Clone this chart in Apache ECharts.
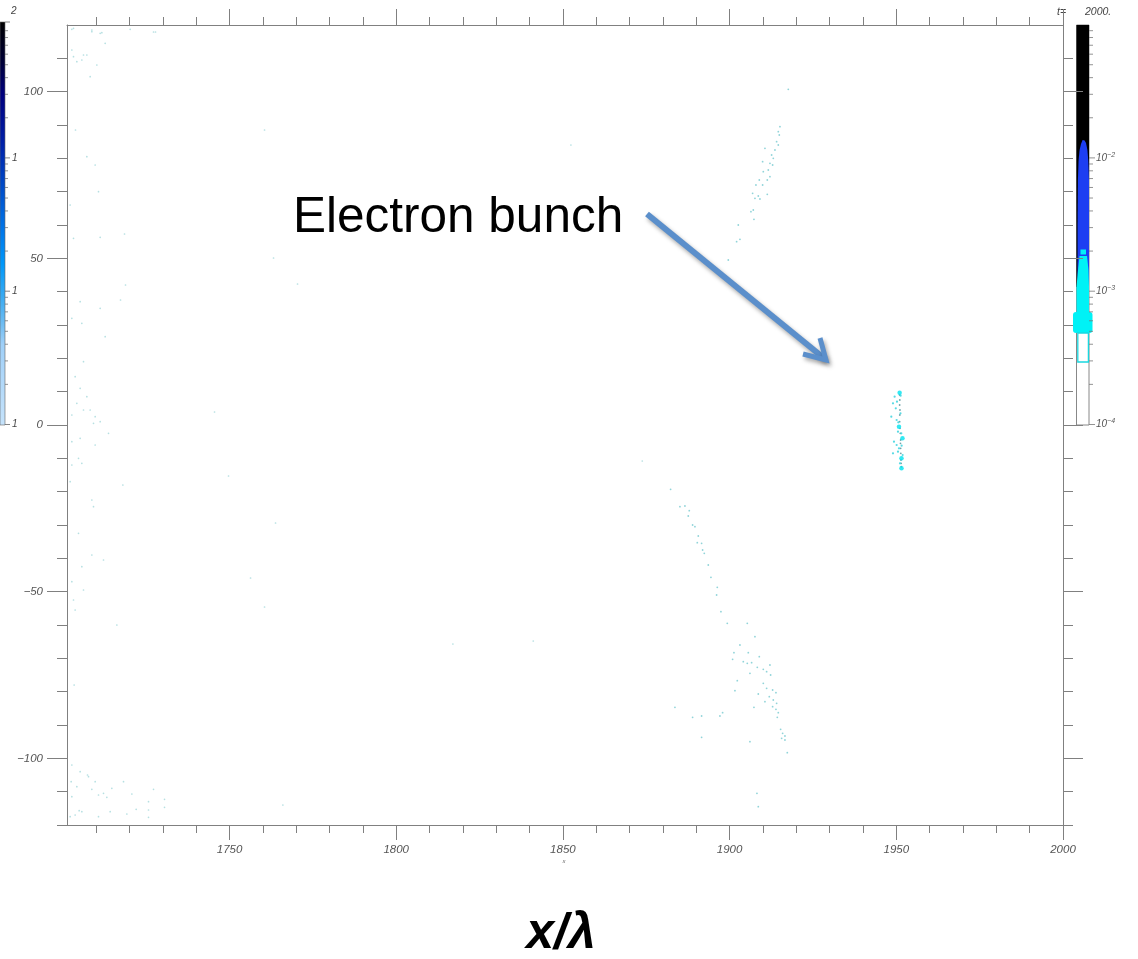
<!DOCTYPE html>
<html><head><meta charset="utf-8">
<script src="https://cdn.jsdelivr.net/npm/echarts@6/dist/echarts.min.js"></script>
<style>html,body{margin:0;padding:0;background:#fff}#c{width:1138px;height:959px}</style>
</head><body><div id="c"></div>
<script>
// ---- axis ticks / labels ----
const xRange = [1701.25, 2000];
const yRange = [-120, 120];
const xMajorTicks = [1750, 1800, 1850, 1900, 1950, 2000];
const xMinorTicks = [1710,1720,1730,1740,1760,1770,1780,1790,1810,1820,1830,1840,1860,1870,1880,1890,1910,1920,1930,1940,1960,1970,1980,1990];
const yMajorTicks = [-100, -50, 0, 50, 100];
const yMinorTicks = [-120,-110,-90,-80,-70,-60,-40,-30,-20,-10,10,20,30,40,60,70,80,90,110];

// ---- particle data [x/λ, y/λ] ----
const bunchCore = [[1951.0,9.7],[1950.8,-0.5],[1951.85,-4.0],[1951.55,-10.0],[1951.55,-13.0]];
const bunchHalo = [[1949.5,8.5],[1949.0,6.5],[1949.85,5.0],[1950.2,7.0],[1948.5,2.5],[1950.1,1.5],[1951.25,3.5],
  [1950.5,-2.0],[1951.5,-2.5],[1949.3,-5.0],[1950.1,-6.0],[1950.8,-7.0],[1949.0,-8.5],[1950.5,-8.0],
  [1951.9,-9.0],[1951.1,-11.5],[1951.3,8.8],[1950.6,0.8],[1951.6,-6.2]];
const bunchTrace = [[1951.0,9.0],[1951.05,7.5],[1951.0,6.0],[1951.1,4.5],[1951.05,3.0],[1951.0,1.0],[1951.1,-1.0],
  [1951.2,-2.5],[1951.3,-4.5],[1951.25,-5.5],[1951.3,-7.0],[1951.35,-8.5],[1951.4,-10.5],[1951.45,-11.5],[1951.5,-12.5]];
const upperArc = [[1917.6,100.7],[1915.1,89.5],[1914.6,88.0],[1914.9,87.0],[1914.1,85.0],[1914.6,84.0],[1913.6,82.5],
  [1912.6,81.0],[1913.1,80.0],[1912.1,78.5],[1910.6,83.0],[1912.9,78.0],[1911.6,76.5],[1909.9,79.0],[1910.1,76.0],
  [1912.1,74.5],[1911.3,73.5],[1908.9,73.5],[1909.9,72.0],[1907.9,72.0],[1911.3,69.2],[1906.9,69.5],[1908.6,68.7],
  [1907.6,68.0],[1909.1,67.8],[1907.1,64.5],[1906.4,64.0],[1907.3,61.7],[1902.6,60.0],[1903.1,55.7],[1902.1,55.0],[1899.6,49.5]];
const lowerArc = [[1882.3,-19.3],[1885.1,-24.5],[1886.6,-24.3],[1887.9,-25.7],[1887.6,-27.3],[1888.9,-30.0],[1889.6,-30.5],
  [1890.6,-33.3],[1890.3,-35.3],[1891.6,-35.5],[1891.9,-37.5],[1892.4,-38.5],[1893.6,-42.0],[1894.4,-45.7],[1896.3,-48.7],
  [1896.1,-51.0],[1897.4,-56.0],[1899.3,-59.5],[1905.3,-59.5],[1907.6,-63.5],[1903.1,-66.0],[1901.3,-68.3],[1905.6,-68.3],
  [1908.9,-69.5],[1900.9,-70.3],[1904.1,-71.0],[1905.3,-71.5],[1906.6,-71.3],[1908.3,-72.7],[1910.1,-73.3],[1912.1,-72.0],
  [1911.1,-74.0],[1906.1,-74.5],[1912.3,-75.0],[1902.3,-76.7],[1910.1,-77.5],[1911.1,-79.0],[1912.9,-79.5],[1901.6,-79.7],
  [1913.9,-80.3],[1908.6,-80.7],[1911.9,-81.5],[1910.6,-83.0],[1913.1,-82.5],[1914.1,-83.5],[1912.9,-84.5],[1913.9,-85.3],
  [1914.6,-86.3],[1914.3,-87.7],[1907.3,-84.7],[1897.9,-86.3],[1897.1,-87.3],[1891.6,-87.3],[1888.9,-87.7],[1883.6,-84.7],
  [1915.3,-91.3],[1915.9,-92.5],[1916.6,-93.3],[1915.6,-94.0],[1916.6,-94.5],[1891.6,-93.7],[1906.1,-95.0],[1917.3,-98.3],
  [1908.2,-110.5],[1908.6,-114.5]];
const edgeCluster = [[1702.7,112.5],[1704.2,109],[1705.7,109.5],[1707.2,111],[1703.2,110.5],[1708.2,104.5],[1710.2,108],
  [1708.7,118],[1711.2,117.5],[1703.2,119],[1712.7,114.5],[1702.7,118.7],[1708.7,118.5],[1711.7,117.7],[1720.2,118.7],
  [1727.2,117.9],[1706.2,111],[1703.8,88.5],[1707.2,80.5],[1709.7,78],[1710.7,70],[1702.2,66],[1703.2,56],[1711.2,56.3],
  [1718.5,57.3],[1718.8,42],[1717.3,37.5],[1705.2,37],[1705.7,30.5],[1702.7,32],[1711.2,35],[1712.7,26.5],[1706.2,19],
  [1703.7,14.5],[1705.2,11],[1707.2,8.5],[1704.2,6.5],[1708.2,4.5],[1709.7,2.5],[1711.2,1],[1702.7,3.0],[1706.2,4.5],
  [1709.2,0.5],[1713.7,-2.5],[1702.7,-5],[1705.2,-4],[1709.7,-6],[1704.7,-10],[1705.7,-11.5],[1702.7,-12],[1702.2,-17],
  [1718.0,-18],[1708.7,-22.5],[1709.2,-24.5],[1704.7,-32.5],[1705.7,-42.5],[1708.7,-39],[1712.2,-40.5],[1706.2,-49.5],
  [1702.7,-47],[1703.2,-52.5],[1703.7,-55.5],[1716.2,-60],[1703.4,-78],[1702.7,-102],[1705.2,-104],[1707.7,-105.5],
  [1709.7,-107],[1704.2,-108.5],[1712.2,-110.5],[1714.7,-109],[1702.7,-111.5],[1705.7,-116],[1707.4,-105],[1702.5,-107],
  [1708.7,-109.3],[1710.7,-111],[1713.2,-111.7],[1718.2,-107],[1720.7,-110.7],[1727.2,-109.3],[1730.5,-112.3],
  [1730.5,-114.7],[1725.7,-113],[1725.7,-115.5],[1722.0,-115.3],[1719.2,-116.7],[1714.2,-116],[1710.7,-117.5],
  [1704.9,-115.7],[1702.2,-117.5],[1703.7,-117],[1725.7,-117.7]];
const strayPoints = [[1760.5,88.5],[1763.2,50.1],[1770.4,42.3],[1745.5,3.9],[1749.7,-15.3],[1763.8,-29.4],[1756.3,-45.9],
  [1760.5,-54.6],[1841.1,-64.8],[1817.0,-65.7],[1873.8,-10.8],[1852.4,84.0],[1766.0,-114.0],[1727.8,117.9]];

// ---- colour bar tick labels ----
const leftBarLabels = ['2', '1', '1', '1'];
const rightBarExponents = ['−2', '−3', '−4'];
const timeLabel = 't=';
const timeValue = '2000.';

const chart = echarts.init(document.getElementById('c'), null, {renderer: 'canvas'});
const AX = '#808080';
const labelFont = {fontStyle: 'italic', fontSize: 11.5, color: '#555', fontFamily: 'Liberation Sans, Arial, sans-serif'};
const fmt = v => String(v).replace('-', '\u2212');

function xAx(pos, ticks, len, showLabel, showLine) {
  return {type: 'value', position: pos, min: xRange[0], max: xRange[1], gridIndex: 0,
    axisLine: {show: showLine, onZero: false, lineStyle: {color: AX, width: 1}},
    axisTick: {show: true, customValues: ticks, length: len, lineStyle: {color: AX}},
    axisLabel: showLabel ? Object.assign({show: true, customValues: ticks, margin: 19, formatter: fmt}, labelFont) : {show: false},
    splitLine: {show: false}};
}
function yAx(pos, ticks, len, showLabel, showLine) {
  return {type: 'value', position: pos, min: yRange[0], max: yRange[1], gridIndex: 0,
    axisLine: {show: showLine, onZero: false, lineStyle: {color: AX, width: 1}},
    axisTick: {show: true, customValues: ticks, length: len, lineStyle: {color: AX}},
    axisLabel: showLabel ? Object.assign({show: true, customValues: ticks, margin: 24, formatter: fmt}, labelFont) : {show: false},
    splitLine: {show: false}};
}

// colour bar log ticks
const graphics = [];
const decadeH = 133.3;
function logTicks(x0, x1, bases) {
  bases.forEach(b => {
    for (let k = 2; k <= 9; k++) {
      const y = b - decadeH * Math.log10(k);
      graphics.push({type: 'line', shape: {x1: x0, y1: y, x2: x1, y2: y}, style: {stroke: '#777', lineWidth: 0.8}});
    }
  });
}
// left colour bar
graphics.push({type: 'rect', shape: {x: 0, y: 22, width: 5, height: 403},
  style: {fill: new echarts.graphic.LinearGradient(0, 0, 0, 1, [
    {offset: 0, color: '#000000'}, {offset: 0.1, color: '#000038'}, {offset: 0.18, color: '#00007e'},
    {offset: 0.3, color: '#0020a8'}, {offset: 0.42, color: '#0050cc'}, {offset: 0.52, color: '#0078ea'},
    {offset: 0.6, color: '#0098fa'}, {offset: 0.68, color: '#38aaf2'}, {offset: 0.75, color: '#70bdf2'},
    {offset: 0.8, color: '#a0d0f8'}, {offset: 1, color: '#c6e3fb'}]), stroke: '#666', lineWidth: 0.6}});
logTicks(5, 8, [424.5, 291.2, 157.9]);
[22, 157.9, 291.2, 424.5].forEach((y, i) => {
  graphics.push({type: 'line', shape: {x1: 5, y1: y, x2: 10, y2: y}, style: {stroke: '#666', lineWidth: 0.8}});
});
[[11, 11], [12, 158], [12, 291], [12, 424]].forEach((p, i) => {
  graphics.push({type: 'text', x: p[0], y: p[1], style: {text: leftBarLabels[i], fontSize: 10, fontStyle: 'italic',
    fill: '#444', verticalAlign: 'middle', fontFamily: 'Liberation Sans, Arial'}});
});
// right colour bar
graphics.push({type: 'rect', shape: {x: 1076.5, y: 25, width: 12.5, height: 400}, style: {fill: '#fff', stroke: '#888', lineWidth: 1}});
graphics.push({type: 'rect', shape: {x: 1076.5, y: 25, width: 12.5, height: 262}, style: {fill: '#000'}});
graphics.push({type: 'polygon', shape: {points: [[1082.6,140],[1081,144],[1079.6,150],[1078.6,160],[1077.9,180],[1077.6,220],[1077.5,287],
  [1089,287],[1089,180],[1088.4,162],[1087.4,150],[1086,143],[1084.6,140.5]]}, style: {fill: '#1d3ef2'}});
graphics.push({type: 'rect', shape: {x: 1080.5, y: 249.5, width: 5.5, height: 5}, style: {fill: '#00f0f8'}});
graphics.push({type: 'polygon', shape: {points: [[1079.5,256],[1087,256],[1088.5,270],[1089,287],[1089,333],[1076.5,333],[1076.5,287],[1078,270]]},
  style: {fill: '#00f2f6'}});
graphics.push({type: 'rect', shape: {x: 1073, y: 312, width: 19.5, height: 21, r: 3}, style: {fill: '#00f2f6'}});
graphics.push({type: 'rect', shape: {x: 1077.8, y: 333, width: 10.6, height: 29}, style: {fill: '#fff', stroke: '#18d8e0', lineWidth: 1.3}});
logTicks(1089, 1093, [424.5, 291.2, 157.9]);
[157.9, 291.2, 424.5].forEach((y, i) => {
  graphics.push({type: 'line', shape: {x1: 1089, y1: y, x2: 1095, y2: y}, style: {stroke: '#777', lineWidth: 0.8}});
  graphics.push({type: 'text', x: 1096, y: y, style: {text: '{b|10}{s|' + rightBarExponents[i] + '}', verticalAlign: 'middle',
    rich: {b: {fontSize: 10, fontStyle: 'italic', fill: '#555', fontFamily: 'Liberation Sans, Arial'},
           s: {fontSize: 7, fontStyle: 'italic', fill: '#555', verticalAlign: 'top', padding: [0,0,6,0], fontFamily: 'Liberation Sans, Arial'}}}});
});
graphics.push({type: 'text', x: 1057, y: 12, style: {text: timeLabel, fontSize: 10.5, fontStyle: 'italic', fill: '#444', verticalAlign: 'middle', fontFamily: 'Liberation Sans, Arial'}});
graphics.push({type: 'text', x: 1085, y: 12, style: {text: timeValue, fontSize: 10.5, fontStyle: 'italic', fill: '#444', verticalAlign: 'middle', fontFamily: 'Liberation Sans, Arial'}});
// tiny axis name under 1850
graphics.push({type: 'text', x: 564, y: 861, style: {text: 'x', fontSize: 6, fontStyle: 'italic', fill: '#666', align: 'center', verticalAlign: 'middle'}});
// annotation
graphics.push({type: 'text', x: 293, y: 218, style: {text: 'Electron bunch', fontSize: 49.5, fill: '#000', verticalAlign: 'middle',
  fontFamily: 'Liberation Sans, Arial, sans-serif'}});
const arrowStyle = {stroke: '#5b8fcb', lineWidth: 6, lineCap: 'butt', lineJoin: 'miter', fill: null,
  shadowColor: 'rgba(0,0,0,0.35)', shadowBlur: 4, shadowOffsetX: 2, shadowOffsetY: 3};
graphics.push({type: 'line', shape: {x1: 647, y1: 214, x2: 825, y2: 359}, style: arrowStyle});
graphics.push({type: 'polyline', shape: {points: [[803, 354], [826, 360], [820, 338]]}, style: Object.assign({}, arrowStyle, {lineWidth: 5})});
// big axis title
graphics.push({type: 'text', x: 561, y: 934, style: {text: 'x/\u03bb', fontSize: 50, fontWeight: 'bold', fontStyle: 'italic',
  fill: '#000', align: 'center', verticalAlign: 'middle', fontFamily: 'Liberation Sans, Arial, sans-serif'}});

const faint = {color: '#86cccf', opacity: 0.6};
chart.setOption({
  animation: false,
  backgroundColor: '#fff',
  grid: {left: 67, top: 25, right: 75, bottom: 134, show: false},
  xAxis: [xAx('bottom', xMajorTicks, 15, true, true), xAx('bottom', xMinorTicks, 8, false, false),
          xAx('top', xMajorTicks, 16, false, true), xAx('top', xMinorTicks, 8, false, false)],
  yAxis: [yAx('left', yMajorTicks, 20, true, true), yAx('left', yMinorTicks, 10, false, false),
          yAx('right', yMajorTicks, 20, false, true), yAx('right', yMinorTicks, 10, false, false)],
  series: [
    {type: 'scatter', data: edgeCluster, symbolSize: 1.7, itemStyle: faint, clip: true},
    {type: 'scatter', data: strayPoints, symbolSize: 1.7, itemStyle: faint, clip: true},
    {type: 'scatter', data: upperArc, symbolSize: 1.8, itemStyle: {color: '#6cc6cc', opacity: 0.75}, clip: true},
    {type: 'scatter', data: lowerArc, symbolSize: 1.8, itemStyle: {color: '#6cc6cc', opacity: 0.75}, clip: true},
    {type: 'scatter', data: bunchTrace, symbolSize: 1.8, itemStyle: {color: '#4e8f96'}, clip: true},
    {type: 'scatter', data: bunchHalo, symbolSize: 2.2, itemStyle: {color: '#3ad4de', opacity: 0.85}, clip: true},
    {type: 'scatter', data: bunchCore, symbolSize: 4.5, itemStyle: {color: '#00e4f0'}, clip: true}
  ],
  graphic: graphics
});
</script></body></html>
